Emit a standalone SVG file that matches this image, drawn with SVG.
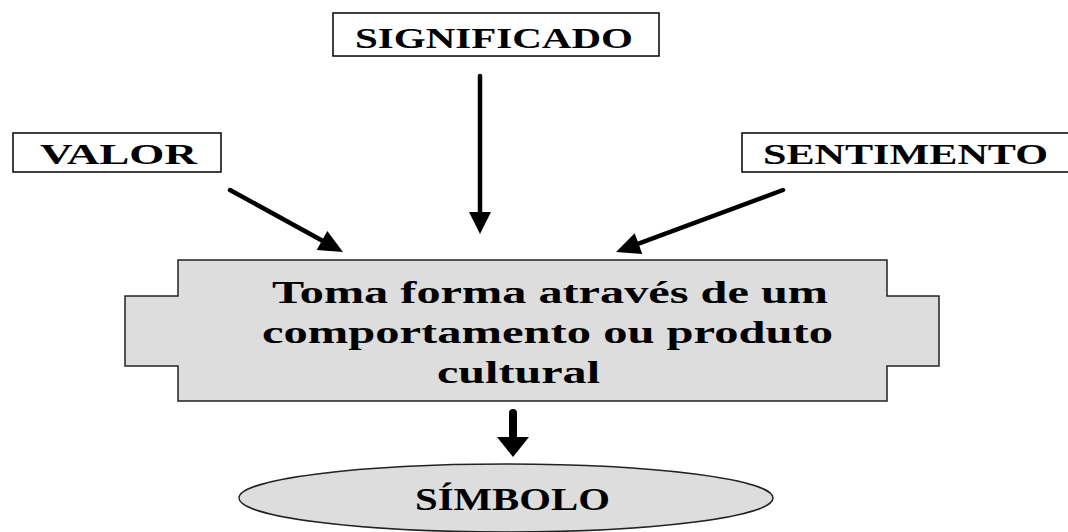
<svg xmlns="http://www.w3.org/2000/svg" width="1068" height="532" viewBox="0 0 1068 532">
<style>
.lbl{fill:#fff;stroke:#000;stroke-width:1.5}
.shape{fill:#dddddd;stroke:#222;stroke-width:1.5}
.t{font-family:"Liberation Serif","Times New Roman",serif;font-weight:bold;fill:#000}
.ln{stroke:#000;stroke-width:4.5;stroke-linecap:round;fill:none}
.hd{fill:#000;stroke:none}
</style>
<rect width="1068" height="532" fill="#fff"/>
<g id="significado">
<rect class="lbl" x="333" y="13" width="326" height="43"/>
<text class="t" x="355" y="48" font-size="30" textLength="278" lengthAdjust="spacingAndGlyphs">SIGNIFICADO</text>
</g>
<g id="valor">
<rect class="lbl" x="13" y="133" width="208" height="39"/>
<text class="t" x="40" y="164" font-size="30" textLength="157" lengthAdjust="spacingAndGlyphs">VALOR</text>
</g>
<g id="sentimento">
<rect class="lbl" x="742" y="133" width="340" height="39"/>
<text class="t" x="763" y="164" font-size="30" textLength="285" lengthAdjust="spacingAndGlyphs">SENTIMENTO</text>
</g>
<g id="forma">
<path class="shape" d="M178,260 H887 V296 H939 V366 H887 V401 H178 V366 H125 V296 H178 Z"/>
<text class="t" x="272" y="303" font-size="32" textLength="556" lengthAdjust="spacingAndGlyphs">Toma forma através de um</text>
<text class="t" x="262" y="343" font-size="32" textLength="571" lengthAdjust="spacingAndGlyphs">comportamento ou produto</text>
<text class="t" x="437" y="383" font-size="32" textLength="163" lengthAdjust="spacingAndGlyphs">cultural</text>
</g>
<g id="simbolo">
<ellipse class="shape" cx="506" cy="498" rx="267" ry="34"/>
<text class="t" x="415" y="510" font-size="31" textLength="195" lengthAdjust="spacingAndGlyphs">SÍMBOLO</text>
</g>
<g id="connectors">
<line class="ln" x1="230" y1="190" x2="322" y2="240.5"/>
<polygon class="hd" points="343,252 316.7,250.1 327.3,230.9"/>
<line class="ln" x1="480" y1="76" x2="480" y2="214"/>
<polygon class="hd" points="469,212 491,212 480,234"/>
<line class="ln" x1="783" y1="190" x2="638.5" y2="243.6"/>
<polygon class="hd" points="616,252 642.3,253.9 634.7,233.3"/>
<line class="ln" style="stroke-width:8" x1="513" y1="413" x2="513" y2="439"/>
<polygon class="hd" points="497,437 529,437 513,457"/>
</g>
</svg>
